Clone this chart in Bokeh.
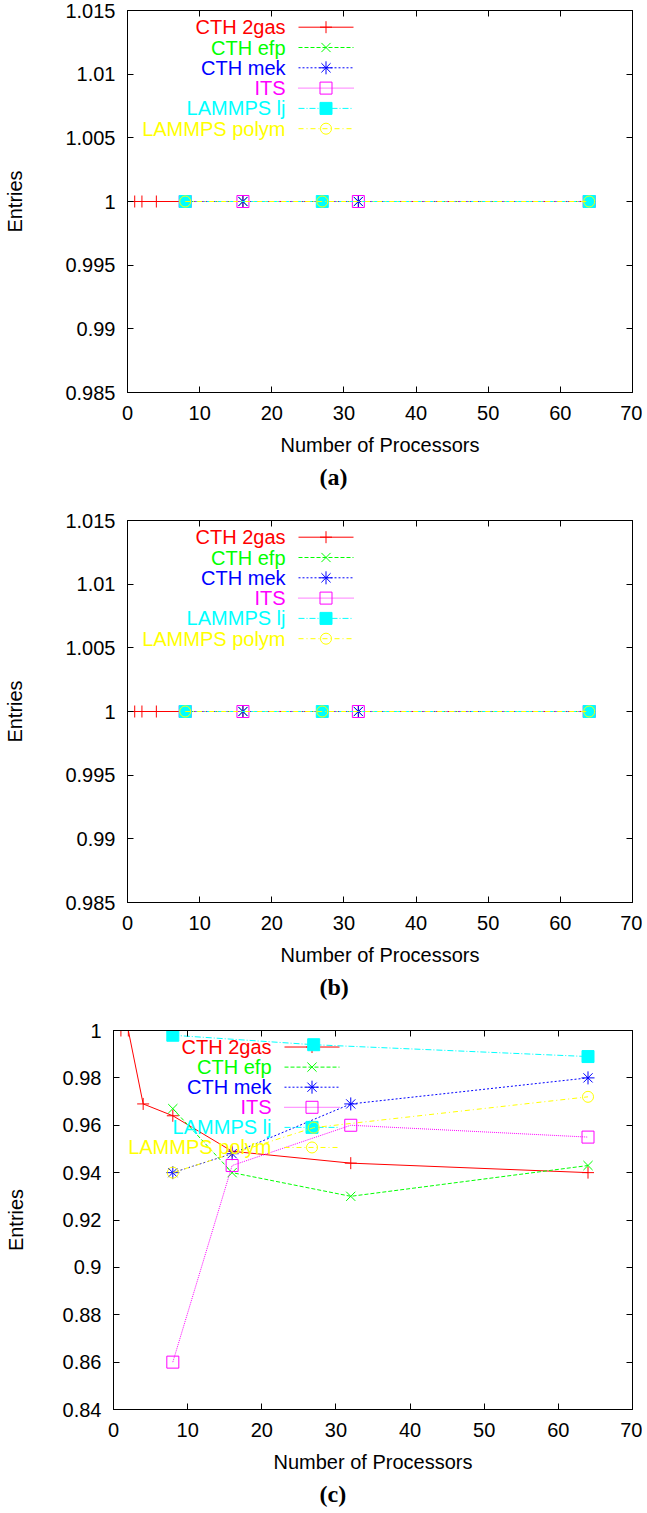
from bokeh.plotting import figure
from bokeh.models import Range1d, FixedTicker, LinearAxis, PrintfTickFormatter, Title, CustomJSTickFormatter
from bokeh.core.properties import value
from bokeh.embed import file_html
from bokeh.resources import INLINE

# ---------------- data ----------------
series_names = ["CTH 2gas", "CTH efp", "CTH mek", "ITS", "LAMMPS lj", "LAMMPS polym"]
series_colors = ["#ff0000", "#00ff00", "#0000ff", "#ff00ff", "#00ffff", "#ffff00"]

procs_cth_2gas = [1, 2, 4, 8, 16, 32, 64]
procs_cth = [8, 16, 32, 64]
procs_its = [8, 16, 32, 64]
procs_lammps = [8, 27, 64]

# panel (a)
a_cth_2gas = [1, 1, 1, 1, 1, 1, 1]
a_cth_efp = [1, 1, 1, 1]
a_cth_mek = [1, 1, 1, 1]
a_its = [1, 1, 1, 1]
a_lammps_lj = [1, 1, 1]
a_lammps_polym = [1, 1, 1]

# panel (b)
b_cth_2gas = [1, 1, 1, 1, 1, 1, 1]
b_cth_efp = [1, 1, 1, 1]
b_cth_mek = [1, 1, 1, 1]
b_its = [1, 1, 1, 1]
b_lammps_lj = [1, 1, 1]
b_lammps_polym = [1, 1, 1]

# panel (c)
c_cth_2gas = [1.0, 1.0, 0.969, 0.964, 0.949, 0.944, 0.940]
c_cth_efp = [0.967, 0.940, 0.930, 0.943]
c_cth_mek = [0.940, 0.948, 0.969, 0.980]
c_its = [0.860, 0.943, 0.960, 0.955]
c_lammps_lj = [0.998, 0.994, 0.989]
c_lammps_polym = [0.940, 0.959, 0.972]

x_ticks = [0, 10, 20, 30, 40, 50, 60, 70]
ab_y_ticks = [0.985, 0.99, 0.995, 1.0, 1.005, 1.01, 1.015]
c_y_ticks = [0.84, 0.86, 0.88, 0.9, 0.92, 0.94, 0.96, 0.98, 1.0]

x_title = "Number of Processors"
y_title = "Entries"

# ---------------- styles ----------------
STYLES = [
    dict(marker="cross", size=12, fill=False, dash="solid"),
    dict(marker="x", size=13, fill=False, dash="4 2"),
    dict(marker="asterisk", size=13, fill=False, dash="2 2"),
    dict(marker="square", size=12, fill=False, dash="1 1"),
    dict(marker="square", size=12, fill=True, dash="6 2 1 2"),
    dict(marker="circle", size=11, fill=False, dash="5 3 1 3"),
]
FONT = "Liberation Sans"


def make_panel(xs_list, ys_list, y_ticks, caption, min_left, height, bottom,
               frame_w, frame_h, cap_offset, ylab_standoff):
    y0, y1 = y_ticks[0], y_ticks[-1]
    p = figure(width=642, height=height, x_range=Range1d(0, 70), y_range=Range1d(y0, y1),
               output_backend="svg", toolbar_location=None,
               min_border_left=min_left, min_border_right=10,
               min_border_top=10, min_border_bottom=bottom)
    p.xgrid.visible = False
    p.ygrid.visible = False
    p.outline_line_color = "black"
    p.outline_line_width = 1
    p.background_fill_color = "white"
    p.border_fill_color = "white"

    xt = FixedTicker(ticks=x_ticks, minor_ticks=[])
    yt = FixedTicker(ticks=y_ticks, minor_ticks=[])
    for ax in p.xaxis:
        ax.ticker = xt
    for ax in p.yaxis:
        ax.ticker = yt
        ax.formatter = PrintfTickFormatter(format="%g")

    for ax in list(p.xaxis) + list(p.yaxis):
        ax.major_tick_in = 6
        ax.major_tick_out = 0
        ax.minor_tick_in = 0
        ax.minor_tick_out = 0
        ax.axis_line_color = "black"
        ax.major_tick_line_color = "black"
        ax.major_label_text_font = FONT
        ax.major_label_text_font_size = "20px"
        ax.major_label_text_color = "black"
        ax.axis_label_text_font = FONT
        ax.axis_label_text_font_size = "20px"
        ax.axis_label_text_font_style = "normal"
        ax.axis_label_text_color = "black"
    p.xaxis.axis_label = x_title
    p.yaxis.axis_label = y_title
    p.xaxis.major_label_standoff = 13
    p.xaxis.axis_label_standoff = 11
    p.yaxis.major_label_standoff = 12
    p.yaxis.axis_label_standoff = ylab_standoff

    # mirrored ticks on top and right
    blank = CustomJSTickFormatter(code="return ''")
    top_ax = LinearAxis(ticker=FixedTicker(ticks=x_ticks, minor_ticks=[]), formatter=blank,
                        major_label_text_font_size="1px", major_label_standoff=0,
                        major_tick_in=6, major_tick_out=0, minor_tick_in=0, minor_tick_out=0)
    right_ax = LinearAxis(ticker=FixedTicker(ticks=y_ticks, minor_ticks=[]), formatter=blank,
                          major_label_text_font_size="1px", major_label_standoff=0,
                          major_tick_in=6, major_tick_out=0, minor_tick_in=0, minor_tick_out=0)
    p.add_layout(top_ax, "above")
    p.add_layout(right_ax, "right")

    cap = Title(text=caption, align="left", offset=cap_offset, vertical_align="top",
                text_font="Liberation Serif", text_font_style="bold",
                text_font_size="24px", text_color="black", standoff=10)
    p.add_layout(cap, "below")

    def fx(px):
        return 0 + px / frame_w * 70

    def fy(py):
        return y1 - py / frame_h * (y1 - y0)

    for i, (name, color, st, xs, ys) in enumerate(zip(series_names, series_colors, STYLES, xs_list, ys_list)):
        ty = fy(16.7 + 20.3 * i)
        fill = color if st["fill"] else None
        # key entry
        p.text(x=[fx(158)], y=[ty], text=[name], text_align="right", text_baseline="middle",
               text_color=color, text_font=value(FONT), text_font_size="20px")
        p.line([fx(171), fx(226)], [ty, ty], line_color=color, line_width=1, line_dash=st["dash"])
        p.scatter([fx(198.5)], [ty], marker=st["marker"], size=st["size"], line_color=color,
                  fill_color=fill, line_width=1)
        # data
        p.line(xs, ys, line_color=color, line_width=1, line_dash=st["dash"])
        p.scatter(xs, ys, marker=st["marker"], size=st["size"], line_color=color,
                  fill_color=fill, line_width=1)
    return p


xs_all = [procs_cth_2gas, procs_cth, procs_cth, procs_its, procs_lammps, procs_lammps]

pa = make_panel(xs_all, [a_cth_2gas, a_cth_efp, a_cth_mek, a_its, a_lammps_lj, a_lammps_polym],
                ab_y_ticks, "(a)", 127, 510, 118, 505.0, 382.0, 192, 36)
pb = make_panel(xs_all, [b_cth_2gas, b_cth_efp, b_cth_mek, b_its, b_lammps_lj, b_lammps_polym],
                ab_y_ticks, "(b)", 127, 510, 118, 505.0, 382.0, 192, 36)
pc = make_panel(xs_all, [c_cth_2gas, c_cth_efp, c_cth_mek, c_its, c_lammps_lj, c_lammps_polym],
                c_y_ticks, "(c)", 113, 493, 100, 519.0, 383.0, 206, 33)

open("out.html", "w").write(file_html([pa, pb, pc], INLINE))
